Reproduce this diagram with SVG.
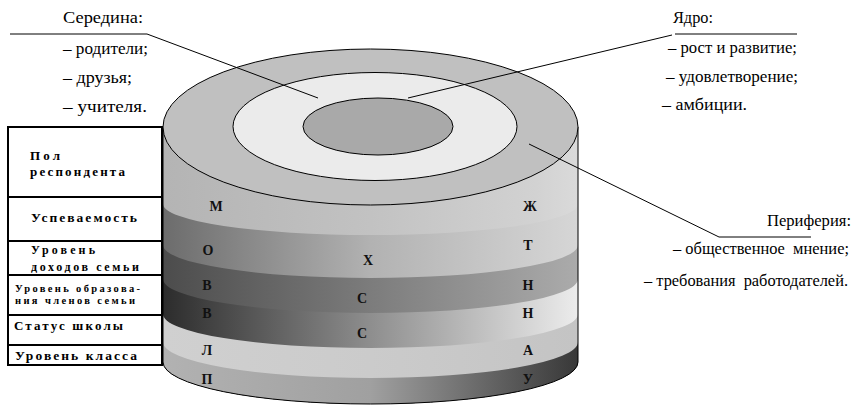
<svg xmlns="http://www.w3.org/2000/svg" width="855" height="406" viewBox="0 0 855 406">
<style>
.lbl{font-family:"Liberation Serif","Times New Roman",serif;font-size:17px;fill:#000;white-space:pre}
.tb{font-family:"Liberation Serif","Times New Roman",serif;font-weight:bold;fill:#000}
.let{font-family:"Liberation Serif","Times New Roman",serif;font-weight:bold;font-size:14px;fill:#111;text-anchor:middle}
.ln{stroke:#000;stroke-width:1;fill:none}
.cell{fill:#fff;stroke:#000;stroke-width:2}
.face{stroke:#000;stroke-width:1}
</style>
<defs>
<linearGradient id="g1" x1="0" y1="0" x2="1" y2="0"><stop offset="0" stop-color="#b4b4b4"/><stop offset="0.5" stop-color="#c2c2c2"/><stop offset="0.9" stop-color="#d2d2d2"/><stop offset="1" stop-color="#dadada"/></linearGradient>
<linearGradient id="g2" x1="0" y1="0" x2="1" y2="0"><stop offset="0" stop-color="#6c6c6c"/><stop offset="0.5" stop-color="#b2b2b2"/><stop offset="1" stop-color="#d6d6d6"/></linearGradient>
<linearGradient id="g3" x1="0" y1="0" x2="1" y2="0"><stop offset="0" stop-color="#4c4c4c"/><stop offset="0.5" stop-color="#7c7c7c"/><stop offset="1" stop-color="#ababab"/></linearGradient>
<linearGradient id="g4" x1="0" y1="0" x2="1" y2="0"><stop offset="0" stop-color="#2c2c2c"/><stop offset="0.5" stop-color="#8e8e8e"/><stop offset="1" stop-color="#ececec"/></linearGradient>
<linearGradient id="g5" x1="0" y1="0" x2="1" y2="0"><stop offset="0" stop-color="#d0d0d0"/><stop offset="0.5" stop-color="#cbcbcb"/><stop offset="1" stop-color="#c4c4c4"/></linearGradient>
<linearGradient id="g6" x1="0" y1="0" x2="1" y2="0"><stop offset="0" stop-color="#b2b2b2"/><stop offset="0.5" stop-color="#a0a0a0"/><stop offset="1" stop-color="#383838"/></linearGradient>
</defs>

<g id="cylinder">
<path fill="url(#g1)" d="M163,127 L578,127 L578,362 A207.5,42 0 0 1 163,362 Z"/>
<path fill="url(#g2)" d="M163,204 A207.5,31 0 0 0 578,204 L578,362 A207.5,42 0 0 1 163,362 Z"/>
<path fill="url(#g3)" d="M163,245 A207.5,33 0 0 0 578,245 L578,362 A207.5,42 0 0 1 163,362 Z"/>
<path fill="url(#g4)" d="M163,279 A207.5,34 0 0 0 578,279 L578,362 A207.5,42 0 0 1 163,362 Z"/>
<path fill="url(#g5)" d="M163,314 A207.5,34 0 0 0 578,314 L578,362 A207.5,42 0 0 1 163,362 Z"/>
<path fill="url(#g6)" d="M163,342 A207.5,36 0 0 0 578,342 L578,362 A207.5,42 0 0 1 163,362 Z"/>
<path class="ln" d="M163,127 L163,362 A207.5,42 0 0 0 578,362 L578,127"/>
<ellipse class="face" cx="370.5" cy="127" rx="207.5" ry="78" fill="#c0c0c0"/>
<ellipse class="face" cx="375" cy="126.5" rx="142" ry="54" fill="#ebebeb"/>
<ellipse class="face" cx="378" cy="126.5" rx="75" ry="28.5" fill="#a9a9a9"/>
<text class="let" x="216" y="211">М</text>
<text class="let" x="530" y="211">Ж</text>
<text class="let" x="208" y="255">О</text>
<text class="let" x="368" y="265">Х</text>
<text class="let" x="528" y="250">Т</text>
<text class="let" x="207" y="290">В</text>
<text class="let" x="362" y="303">С</text>
<text class="let" x="528" y="290">Н</text>
<text class="let" x="207" y="318">В</text>
<text class="let" x="362" y="338">С</text>
<text class="let" x="528" y="318">Н</text>
<text class="let" x="207" y="355">Л</text>
<text class="let" x="528" y="355">А</text>
<text class="let" x="207" y="384">П</text>
<text class="let" x="528" y="384">У</text>
</g>

<g id="table">
<g id="row-pol"><rect class="cell" x="8" y="127" width="154" height="70"/>
<text class="tb" font-size="13" x="30" y="160" textLength="30" lengthAdjust="spacing">Пол</text>
<text class="tb" font-size="13" x="30" y="176" textLength="95" lengthAdjust="spacing">респондента</text></g>
<g id="row-usp"><rect class="cell" x="8" y="197" width="154" height="44"/>
<text class="tb" font-size="13.5" x="31" y="222" textLength="106" lengthAdjust="spacing">Успеваемость</text></g>
<g id="row-doh"><rect class="cell" x="8" y="241" width="154" height="34"/>
<text class="tb" font-size="12" x="31" y="254" textLength="64" lengthAdjust="spacing">Уровень</text>
<text class="tb" font-size="12" x="31" y="271" textLength="108" lengthAdjust="spacing">доходов семьи</text></g>
<g id="row-obr"><rect class="cell" x="8" y="275" width="154" height="40"/>
<text class="tb" font-size="10.5" x="15" y="292" textLength="125" lengthAdjust="spacing">Уровень образова-</text>
<text class="tb" font-size="10.5" x="15" y="304" textLength="120" lengthAdjust="spacing">ния членов семьи</text></g>
<g id="row-stat"><rect class="cell" x="8" y="315" width="154" height="30"/>
<text class="tb" font-size="13" x="14" y="330" textLength="109" lengthAdjust="spacing">Статус школы</text></g>
<g id="row-kl"><rect class="cell" x="8" y="345" width="154" height="20"/>
<text class="tb" font-size="13.5" x="15" y="360" textLength="122" lengthAdjust="spacing">Уровень класса</text></g>
</g>

<g id="connectors">
<polyline class="ln" points="10,34 147,34 318,98"/>
<polyline class="ln" points="408,98 672,35"/>
<polyline class="ln" points="675,34 797,34"/>
<polyline class="ln" points="529,144 719,237 811,237"/>
</g>

<g id="label-seredina">
<text class="lbl" x="63" y="23" textLength="80" lengthAdjust="spacingAndGlyphs">Середина:</text>
<text class="lbl" x="63" y="54" textLength="85" lengthAdjust="spacingAndGlyphs">– родители;</text>
<text class="lbl" x="63" y="83" textLength="69" lengthAdjust="spacingAndGlyphs">– друзья;</text>
<text class="lbl" x="63" y="112" textLength="84" lengthAdjust="spacingAndGlyphs">– учителя.</text>
</g>
<g id="label-yadro">
<text class="lbl" x="673" y="23" textLength="40" lengthAdjust="spacingAndGlyphs">Ядро:</text>
<text class="lbl" x="668" y="53" textLength="129" lengthAdjust="spacingAndGlyphs">– рост и развитие;</text>
<text class="lbl" x="666" y="82" textLength="132" lengthAdjust="spacingAndGlyphs">– удовлетворение;</text>
<text class="lbl" x="662" y="110" textLength="85" lengthAdjust="spacingAndGlyphs">– амбиции.</text>
</g>
<g id="label-periferiya">
<text class="lbl" x="767" y="226" textLength="84" lengthAdjust="spacingAndGlyphs">Периферия:</text>
<text class="lbl" x="673" y="254" textLength="176" lengthAdjust="spacingAndGlyphs">– общественное  мнение;</text>
<text class="lbl" x="644" y="286" textLength="204" lengthAdjust="spacingAndGlyphs">– требования  работодателей.</text>
</g>
</svg>
